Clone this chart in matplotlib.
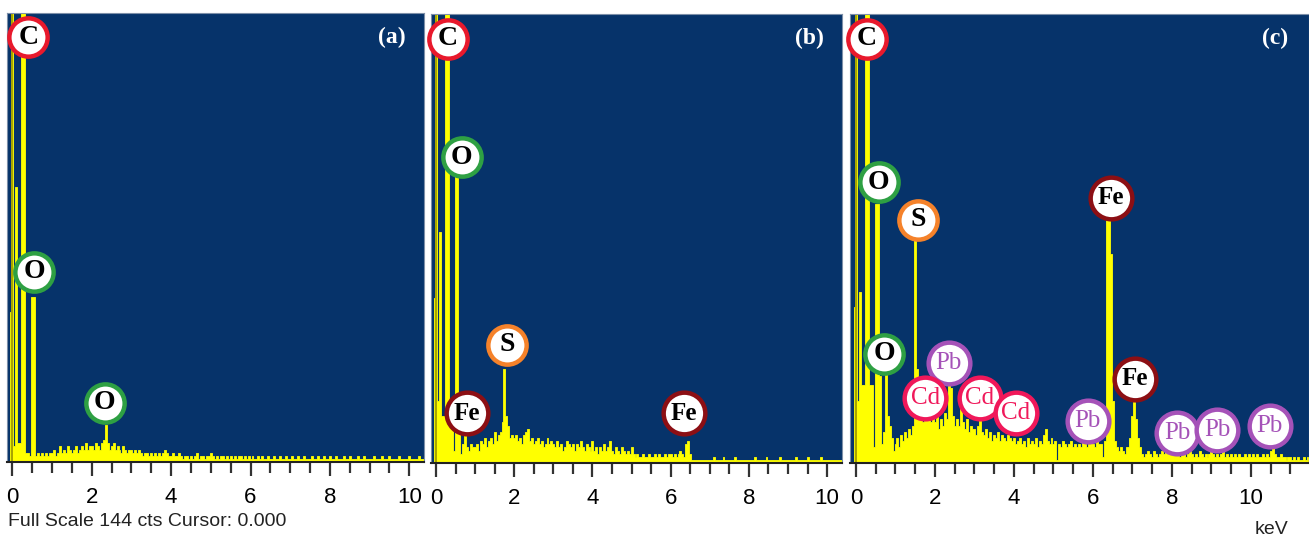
import numpy as np
import matplotlib
matplotlib.use('Agg')
import matplotlib.pyplot as plt

plt.rcParams['font.family'] = ['Liberation Sans Narrow', 'Liberation Sans', 'DejaVu Sans']

# energy channels: start and width (keV)
E_START = -0.05
E_STEP = 0.05

# counts per channel, each row ~1 keV
counts_a = (
    [48, 150, 5, 88, 6, 6, 150, 150, 3, 3, 2, 53, 53, 2, 3, 2, 3, 2, 3, 2, 3]
    + [3, 4, 2, 3, 5, 3, 4, 3, 5, 4, 3, 4, 5, 3, 4, 5, 4, 6, 4, 5]
    + [5, 4, 6, 5, 4, 6, 7, 12, 6, 4, 5, 6, 4, 5, 4, 3, 5, 4, 3, 4]
    + [4, 3, 4, 3, 4, 3, 2, 3, 3, 2, 3, 2, 3, 2, 3, 2, 3, 4, 3, 2]
    + [2, 3, 2, 2, 3, 2, 1, 2, 2, 1, 2, 1, 2, 3, 1, 2, 2, 1, 2, 2]
    + [3, 2, 1, 2, 1, 2, 2, 1, 2, 1, 2, 1, 2, 1, 2, 2, 1, 2, 1, 2]
    + [1, 2, 1, 1, 2, 1, 2, 1, 1, 2, 1, 1, 2, 1, 1, 2, 1, 1, 2, 1]
    + [1, 2, 1, 1, 2, 1, 1, 2, 1, 1, 1, 2, 1, 1, 2, 1, 1, 2, 1, 1]
    + [2, 1, 1, 2, 1, 1, 1, 2, 1, 1, 2, 1, 1, 1, 2, 1, 1, 2, 1, 1]
    + [1, 1, 2, 1, 1, 1, 2, 1, 1, 1, 2, 1, 1, 1, 1, 2, 1, 1, 1, 1]
    + [2, 1, 1, 1, 1, 2, 1, 1, 1]
)

counts_b = (
    [53, 150, 20, 74, 15, 15, 150, 150, 15, 14, 4, 96, 96, 11, 3, 6, 11, 5, 4, 6, 5]
    + [5, 6, 4, 7, 6, 8, 5, 7, 8, 6, 10, 7, 9, 10, 13, 30, 15, 12, 8, 9]
    + [8, 9, 7, 8, 6, 9, 10, 11, 7, 8, 6, 7, 8, 6, 7, 5, 6, 8, 6, 7]
    + [6, 5, 7, 5, 6, 4, 5, 7, 6, 5, 6, 4, 6, 5, 7, 5, 4, 6, 5, 4]
    + [7, 4, 5, 3, 5, 4, 6, 4, 5, 7, 4, 3, 5, 4, 3, 5, 4, 3, 4, 3]
    + [5, 3, 2, 3, 2, 2, 3, 2, 2, 3, 2, 2, 3, 2, 3, 2, 2, 3, 2, 3]
    + [3, 2, 3, 2, 3, 4, 3, 2, 6, 7, 3, 1, 1, 1, 1, 1, 1, 1, 1, 1]
    + [1, 1, 2, 1, 1, 1, 1, 2, 1, 1, 1, 1, 1, 2, 1, 1, 1, 1, 1, 1]
    + [1, 1, 1, 2, 1, 1, 1, 1, 1, 2, 1, 1, 1, 1, 1, 1, 2, 1, 1, 1]
    + [1, 1, 1, 1, 2, 1, 1, 1, 1, 1, 2, 1, 1, 1, 1, 1, 1, 2, 1, 1]
    + [1, 1, 1, 1, 1, 1, 1, 1, 1]
)

counts_c = (
    [50, 150, 20, 55, 25, 25, 150, 150, 25, 25, 5, 83, 83, 28, 6, 10, 29, 15, 12, 8, 4]
    + [6, 8, 5, 9, 7, 10, 8, 11, 9, 12, 72, 30, 14, 16, 13, 15, 14, 17, 13, 15]
    + [13, 15, 11, 14, 12, 16, 14, 26, 24, 15, 12, 14, 12, 19, 13, 11, 14, 10, 12, 11]
    + [11, 9, 12, 15, 10, 9, 11, 8, 10, 7, 9, 8, 10, 7, 9, 8, 7, 9, 8, 7]
    + [8, 6, 7, 8, 6, 7, 5, 8, 6, 7, 6, 8, 5, 7, 6, 9, 11, 7, 6, 8]
    + [6, 7, 1, 6, 5, 7, 6, 5, 6, 7, 5, 6, 5, 6, 5, 7, 6, 5, 6, 7]
    + [6, 5, 7, 6, 6, 2, 7, 78, 78, 67, 20, 7, 5, 4, 5, 4, 3, 5, 5, 8]
    + [15, 21, 14, 8, 5, 3, 2, 3, 4, 3, 2, 4, 3, 2, 3, 4, 3, 5, 3, 4]
    + [6, 3, 4, 3, 2, 4, 3, 2, 3, 4, 3, 2, 3, 2, 4, 3, 2, 3, 2, 3]
    + [4, 3, 2, 3, 2, 3, 4, 2, 3, 2, 3, 2, 3, 2, 3, 2, 2, 3, 2, 3]
    + [2, 3, 2, 3, 2, 2, 3, 2, 3, 2, 4, 5, 3, 2, 2, 3, 2, 2, 1, 2]
    + [2, 1, 2, 1, 2, 1, 1, 2, 1, 2]
)

# zero-energy strobe line (keV, counts)
zero_peak = (0.0, 150)

# peak labels: element, keV, counts
labels_a = [("C", 0.40, 136), ("O", 0.55, 61), ("O", 2.33, 19)]
labels_b = [("C", 0.31, 136), ("O", 0.66, 98), ("S", 1.82, 38),
            ("Fe", 0.79, 16), ("Fe", 6.34, 16)]
labels_c = [("C", 0.28, 136), ("O", 0.58, 90), ("S", 1.57, 78), ("Fe", 6.46, 85),
            ("O", 0.71, 35), ("Pb", 2.35, 32), ("Cd", 1.75, 21), ("Cd", 3.14, 21),
            ("Cd", 4.05, 16), ("Fe", 7.06, 27), ("Pb", 5.87, 13.5),
            ("Pb", 8.13, 9.5), ("Pb", 9.14, 10.5), ("Pb", 10.48, 12)]

ring = {"C": "#e8192c", "O": "#2ea043", "S": "#f5822a", "Fe": "#8c0f14",
        "Cd": "#f0185a", "Pb": "#a552b8"}
ink = {"C": "black", "O": "black", "S": "black", "Fe": "black",
       "Cd": "#f0185a", "Pb": "#a552b8"}

panels = [
    (counts_a, labels_a, "(a)", [7/1309, 80/542, 417/1309, 449.5/542], (-0.134, 10.37)),
    (counts_b, labels_b, "(b)", [431/1309, 79/542, 411/1309, 449/542], (-0.128, 10.38)),
    (counts_c, labels_c, "(c)", [850/1309, 79/542, 459/1309, 449/542], (-0.152, 11.47)),
]

fig = plt.figure(figsize=(13.09, 5.42), dpi=100)

for counts, labels, tag, rect, xl in panels:
    ax = fig.add_axes(rect)
    ax.set_facecolor('#06336a')
    energy = E_START + E_STEP * np.arange(len(counts))
    ax.fill_between(energy, counts, step='mid', color='#ffff00', lw=0.6, edgecolor='#ffff00')
    ax.bar(zero_peak[0], zero_peak[1], width=0.05, color='#a8a400', lw=0)
    ax.set_xlim(*xl)
    ax.set_ylim(0, 144)
    ax.set_yticks([])
    ax.set_xticks(np.arange(0, 11, 2))
    ax.set_xticks(np.arange(0, xl[1], 0.5), minor=True)
    ax.tick_params(axis='x', which='major', length=10, width=1.6, color='#333333',
                   pad=8, labelsize=16)
    ax.tick_params(axis='x', which='minor', length=8, width=1.6, color='#333333')
    for s in ['top', 'left', 'right']:
        ax.spines[s].set_color('#7d8fa8')
        ax.spines[s].set_linewidth(0.8)
    ax.spines['bottom'].set_color('#222222')
    ax.spines['bottom'].set_linewidth(1.5)

    for el, x, y in labels:
        big = len(el) > 1
        ax.scatter(x, y, s=900 if big else 760, facecolor='white', edgecolor=ring[el],
                   linewidth=3.2, zorder=5, clip_on=False)
        ax.text(x, y, el, ha='center', va='center', fontsize=18 if big else 20,
                family='Liberation Serif',
                weight='normal' if el in ('Pb', 'Cd') else 'bold',
                color=ink[el], zorder=6)

    ax.text(0.955, 0.945, tag, transform=ax.transAxes, ha='right', va='center',
            fontsize=17, family='Liberation Serif', weight='bold', color='white')

fig.text(8/1309, 1 - 521/542, "Full Scale 144 cts Cursor: 0.000", ha='left', va='center',
         fontsize=14, color='#222222')
fig.text(1272/1309, 1 - 530/542, "keV", ha='center', va='center', fontsize=14,
         color='#222222')

fig.savefig('out.png', dpi=100)
